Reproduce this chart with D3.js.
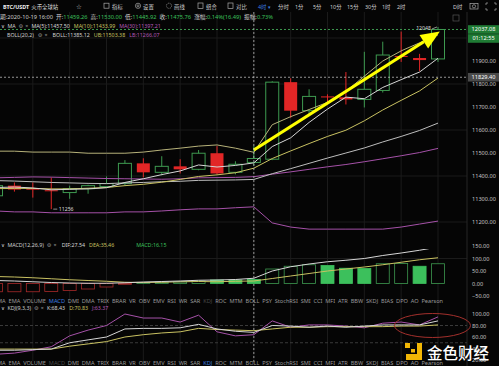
<!DOCTYPE html>
<html>
<head>
<meta charset="utf-8">
<script src="https://cdn.jsdelivr.net/npm/d3@7"></script>
<style>
  body { margin: 0; background: #050505; }
  svg { display: block; font-family: "Noto Sans", "Noto Sans CJK SC", sans-serif; }
</style>
</head>
<body>
<svg id="chart" width="499" height="366"></svg>
<script>
// 4h candles, BTC/USDT
var candleOpen  = [11314, 11358, 11345, 11338, 11328, 11345, 11354, 11367, 11455, 11416, 11442, 11429, 11499, 11416, 11459, 11473, 11808, 11684, 11746, 11742, 11733, 11772, 11922, 11913, 11909];
var candleHigh  = [11370, 11372, 11372, 11394, 11358, 11362, 11398, 11469, 11477, 11486, 11473, 11513, 11530, 11464, 11530, 11812, 11825, 11777, 11755, 11852, 11940, 11984, 12028, 11931, 12048];
var candleLow   = [11300, 11332, 11306, 11256, 11301, 11323, 11350, 11358, 11394, 11403, 11411, 11425, 11407, 11407, 11446, 11469, 11653, 11667, 11720, 11711, 11698, 11763, 11896, 11856, 11896];
var candleClose = [11358, 11341, 11341, 11334, 11345, 11358, 11367, 11455, 11416, 11442, 11429, 11499, 11411, 11451, 11476, 11808, 11684, 11746, 11742, 11733, 11777, 11926, 11918, 11904, 12037];

var ma5  = [11350, 11352, 11348, 11340, 11342, 11344, 11349, 11372, 11388, 11406, 11422, 11448, 11439, 11446, 11457, 11528, 11566, 11633, 11691, 11743, 11736, 11785, 11819, 11852, 11912];
var ma10 = [11345, 11346, 11346, 11344, 11344, 11347, 11350, 11358, 11364, 11373, 11385, 11398, 11405, 11414, 11434, 11476, 11509, 11541, 11572, 11599, 11640, 11687, 11729, 11770, 11826];
var ma30 = [11392, 11394, 11396, 11395, 11393, 11391, 11389, 11388, 11387, 11386, 11388, 11392, 11393, 11394, 11397, 11408, 11418, 11429, 11440, 11450, 11462, 11475, 11488, 11502, 11520];
var bollMid = [11380, 11378, 11375, 11372, 11370, 11368, 11367, 11370, 11372, 11375, 11377, 11381, 11382, 11383, 11385, 11410, 11432, 11455, 11478, 11500, 11522, 11548, 11572, 11598, 11630];
var bollUp  = [11508, 11508, 11504, 11504, 11504, 11499, 11499, 11499, 11504, 11513, 11521, 11530, 11535, 11521, 11503, 11623, 11658, 11689, 11720, 11768, 11834, 11900, 11944, 11979, 12014];
var bollLow = [11248, 11244, 11244, 11240, 11240, 11240, 11240, 11244, 11244, 11248, 11253, 11257, 11257, 11262, 11266, 11196, 11178, 11169, 11169, 11169, 11169, 11169, 11178, 11191, 11204];

var macdBar   = [-33, -33, -33, -32, -28, -22, -14, -3, 4, 5, 6, 10, 14, 14, 16, 58, 69, 75, 72, 61, 60, 79, 80, 69, 79];
var macdSolid = [0, 0, 0, 0, 0, 0, 0, 0, 0, 0, 0, 0, 1, 1, 1, 0, 0, 0, 1, 1, 1, 0, 0, 1, 0];
var macdDif   = [12, 10, 7, 4, 2, 1, 1, 3, 6, 8, 10, 13, 14, 16, 21, 50, 67, 78, 87, 93, 100, 112, 122, 133, 146];
var macdDea   = [28, 26, 23, 19, 15, 12, 9, 5, 4, 5, 7, 8, 7, 9, 10, 20, 30, 40, 50, 58, 66, 75, 85, 95, 103];

var kdjK = [37, 37, 38, 39, 50, 55, 60, 74, 75, 75, 76, 82, 74, 70, 68, 80, 79, 77, 79, 77, 79, 81, 81, 81, 88];
var kdjD = [39, 39, 39, 39, 44, 48, 52, 60, 64, 67, 69, 75, 73, 72, 71, 74, 77, 77, 78, 78, 78, 78, 79, 79, 81];
var kdjJ = [30, 32, 37, 43, 62, 72, 80, 100, 93, 93, 86, 98, 69, 62, 64, 88, 77, 81, 81, 79, 76, 84, 86, 81, 95];

var priceTicks = [11900, 11800, 11700, 11600, 11500, 11400, 11300, 11200];
var macdTicks = [150, 100, 50, 0, -50];
var kdjTicks = [100, 80, 60, 40, 20];

var periods = ["分时", "1分", "5分", "10分", "15分", "30分", "1时", "2时"];
var indicatorTabs = ["MA", "EMA", "VOLUME", "MACD", "DMI", "DMA", "TRIX", "BRAR", "VR", "OBV", "EMV", "RSI", "WR", "SAR", "KDJ", "ROC", "MTM", "BOLL", "PSY", "StochRSI", "SMI", "CCI", "MFI", "ATR", "BBW", "SKDJ", "BIAS", "DPO", "AO", "Pearson"];

var lastPrice = 12037.08, crossPrice = 11829.40, hoverIndex = 14;
var highMark = {i: 24, price: 12048}, lowMark = {i: 3, price: 11256};
var arrowFrom = {i: 14, price: 11513}, arrowTo = {i: 24.1, price: 12028};
var circleAt = {i: 23.7, v: 80};

var svg = d3.select("#chart"),
    width = +svg.attr("width"),
    height = +svg.attr("height"),
    plotRight = 467;

svg.append("rect").attr("width", width).attr("height", height).attr("fill", "#050505");

var x = d3.scaleLinear().domain([0, 24]).range([-4, 438]);
var y = d3.scaleLinear().domain([11200, 11900]).range([222, 61]);
var yMacd = d3.scaleLinear().domain([-50, 150]).range([296, 246]);
var yKdj = d3.scaleLinear().domain([20, 100]).range([360, 314]);

var green = "#3e9a50", greenFill = "#3cc05c", red = "#e22626";
var cWhite = "#d6d6d6", cYellow = "#c9c262", cPurple = "#a551a8", cText = "#cfcfcf", cPink = "#b55ab8";

function clip(id, y0, y1) {
    svg.append("clipPath").attr("id", id).append("rect")
        .attr("x", 0).attr("y", y0).attr("width", plotRight).attr("height", y1 - y0);
    return svg.append("g").attr("clip-path", "url(#" + id + ")");
}

// grid
var grid = svg.append("g").attr("stroke", "#1b1b1b").attr("stroke-width", 1);
grid.selectAll(".v").data(d3.range(2, 25, 2)).enter().append("line")
    .attr("x1", function(d) { return x(d); }).attr("x2", function(d) { return x(d); })
    .attr("y1", 12).attr("y2", 361);
grid.selectAll(".h").data(d3.range(11200, 12001, 200)).enter().append("line")
    .attr("x1", 0).attr("x2", plotRight)
    .attr("y1", function(d) { return y(d); }).attr("y2", function(d) { return y(d); });
grid.append("line").attr("x1", 0).attr("x2", plotRight).attr("y1", yMacd(100)).attr("y2", yMacd(100));
grid.append("line").attr("x1", plotRight).attr("x2", plotRight).attr("y1", 12).attr("y2", 366).attr("stroke", "#262626");
svg.append("g").selectAll("line").data([yKdj(80), yKdj(50)]).enter().append("line")
    .attr("x1", 0).attr("x2", plotRight).attr("y1", function(d) { return d; }).attr("y2", function(d) { return d; })
    .attr("stroke-dasharray", "3,2").attr("stroke", "#3a3a3a");

// main panel
var main = clip("clipMain", 12, 238);
var candles = d3.range(candleOpen.length).map(function(i) {
    return {i: i, o: candleOpen[i], h: candleHigh[i], l: candleLow[i], c: candleClose[i]};
});
var cg = main.selectAll(".candle").data(candles).enter().append("g").attr("class", "candle");
cg.append("line")
    .attr("x1", function(d) { return x(d.i); }).attr("x2", function(d) { return x(d.i); })
    .attr("y1", function(d) { return y(d.h); }).attr("y2", function(d) { return y(d.l); })
    .attr("stroke", function(d) { return d.c >= d.o ? green : red; });
cg.append("rect")
    .attr("x", function(d) { return x(d.i) - 6.5; })
    .attr("width", 13)
    .attr("y", function(d) { return y(Math.max(d.o, d.c)); })
    .attr("height", function(d) { return Math.max(1, Math.abs(y(d.o) - y(d.c))); })
    .attr("fill", function(d) { return d.c >= d.o ? "#050505" : red; })
    .attr("stroke", function(d) { return d.c >= d.o ? green : "none"; });

var priceLine = d3.line().x(function(d, i) { return x(i); }).y(function(d) { return y(d); });
[[bollLow, cPurple], [ma30, cPurple], [bollMid, "#bdbdbd"], [ma10, cYellow], [bollUp, "#b7b27a"], [ma5, cWhite]].forEach(function(s) {
    main.append("path").attr("d", priceLine(s[0])).attr("fill", "none").attr("stroke", s[1]).attr("stroke-width", 1);
});

// last price & crosshair
main.append("line").attr("x1", 0).attr("x2", plotRight).attr("y1", y(lastPrice)).attr("y2", y(lastPrice))
    .attr("stroke", green).attr("stroke-dasharray", "2,2");
main.append("line").attr("x1", 0).attr("x2", plotRight).attr("y1", y(crossPrice)).attr("y2", y(crossPrice))
    .attr("stroke", "#bbb").attr("stroke-dasharray", "2,2").attr("stroke-width", 0.8);
svg.append("line").attr("x1", x(hoverIndex)).attr("x2", x(hoverIndex)).attr("y1", 12).attr("y2", 362)
    .attr("stroke", "#bbb").attr("stroke-dasharray", "2,2").attr("stroke-width", 0.8);

// yellow trend arrow
var ax0 = x(arrowFrom.i), ay0 = y(arrowFrom.price), ax1 = x(arrowTo.i), ay1 = y(arrowTo.price);
var ang = Math.atan2(ay1 - ay0, ax1 - ax0), headLen = 19, headW = 8;
var bx = ax1 - headLen * Math.cos(ang), by = ay1 - headLen * Math.sin(ang);
main.append("line").attr("x1", ax0).attr("y1", ay0).attr("x2", bx).attr("y2", by)
    .attr("stroke", "#ffff00").attr("stroke-width", 3.2);
main.append("path")
    .attr("d", "M" + ax1 + "," + ay1 +
        "L" + (bx - headW * Math.sin(ang)) + "," + (by + headW * Math.cos(ang)) +
        "L" + (bx + headW * Math.sin(ang)) + "," + (by - headW * Math.cos(ang)) + "Z")
    .attr("fill", "#ffff00");

// high / low marks
svg.append("line").attr("x1", x(highMark.i) - 6).attr("x2", x(highMark.i) - 1)
    .attr("y1", y(highMark.price) + 2).attr("y2", y(highMark.price)).attr("stroke", "#ccc").attr("stroke-width", 0.7);
svg.append("text").attr("x", x(highMark.i) - 7).attr("y", y(highMark.price) + 3.5).attr("text-anchor", "end")
    .attr("font-size", 5.2).attr("fill", "#ddd").text(highMark.price);
svg.append("line").attr("x1", x(lowMark.i) + 2).attr("x2", x(lowMark.i) + 6)
    .attr("y1", y(lowMark.price)).attr("y2", y(lowMark.price)).attr("stroke", "#ccc").attr("stroke-width", 0.7);
svg.append("text").attr("x", x(lowMark.i) + 7.5).attr("y", y(lowMark.price) + 2)
    .attr("font-size", 5.2).attr("fill", "#ddd").text(lowMark.price);

// right price axes
var axes = [[y, priceTicks], [yMacd, macdTicks], [yKdj, kdjTicks]].map(function(a) {
    var g = svg.append("g").attr("transform", "translate(470,0)")
        .call(d3.axisRight(a[0]).tickValues(a[1]).tickSize(0).tickPadding(2).tickFormat(d3.format(".2f")));
    g.select(".domain").remove();
    g.selectAll("text").attr("fill", "#c4c4c4").attr("font-size", 5.6).attr("font-family", "Noto Sans, sans-serif");
    return g;
});

function tagBox(yy, txt, fill) {
    svg.append("rect").attr("x", 468).attr("y", yy - 4.3).attr("width", 31).attr("height", 8.6).attr("fill", fill);
    svg.append("text").attr("x", 483.5).attr("y", yy + 2).attr("text-anchor", "middle")
        .attr("font-size", 5.6).attr("fill", "#fff").text(txt);
}
tagBox(y(lastPrice), d3.format(".2f")(lastPrice), "#1f7b34");
tagBox(y(lastPrice) + 9, "01:12:55", "#1f7b34");
tagBox(y(crossPrice), d3.format(".2f")(crossPrice), "#4a4a4a");

// MACD panel
var macdG = clip("clipMacd", 249, 298);
macdG.selectAll(".bar").data(macdBar).enter().append("rect")
    .attr("x", function(d, i) { return x(i) - 6.5; })
    .attr("width", 13)
    .attr("y", function(d) { return Math.min(yMacd(d), yMacd(0)); })
    .attr("height", function(d) { return Math.max(0.8, Math.abs(yMacd(d) - yMacd(0))); })
    .attr("fill", function(d, i) { return d >= 0 && macdSolid[i] ? greenFill : "#050505"; })
    .attr("stroke", function(d, i) { return d < 0 ? "#a82a2a" : (macdSolid[i] ? greenFill : green); })
    .attr("stroke-width", 0.8);
var macdLine = d3.line().x(function(d, i) { return x(i); }).y(function(d) { return yMacd(d); });
macdG.append("path").attr("d", macdLine(macdDea)).attr("fill", "none").attr("stroke", cYellow);
macdG.append("path").attr("d", macdLine(macdDif)).attr("fill", "none").attr("stroke", cWhite);

// KDJ panel
var kdjG = clip("clipKdj", 311, 361);
var kdjLine = d3.line().x(function(d, i) { return x(i); }).y(function(d) { return yKdj(d); });
kdjG.append("path").attr("d", kdjLine(kdjJ)).attr("fill", "none").attr("stroke", cPurple);
kdjG.append("path").attr("d", kdjLine(kdjD)).attr("fill", "none").attr("stroke", cYellow);
kdjG.append("path").attr("d", kdjLine(kdjK)).attr("fill", "none").attr("stroke", cWhite);
svg.append("ellipse").attr("cx", x(circleAt.i)).attr("cy", yKdj(circleAt.v)).attr("rx", 38).attr("ry", 12)
    .attr("fill", "none").attr("stroke", "#a3302c").attr("stroke-width", 1);

// flowing text rows: segs = [text, colour, gap before, font family]
function flowRow(x0, yy, size, segs) {
    var t = svg.append("text").attr("x", x0).attr("y", yy).attr("font-size", size);
    segs.forEach(function(s) {
        var sp = t.append("tspan").attr("fill", s[1]).text(s[0]);
        if (s[2]) sp.attr("dx", s[2]);
        if (s[3]) sp.attr("font-family", s[3]);
    });
    return t;
}
var sym = "DejaVu Sans";
var G = "#3cc05c";

// top bar
flowRow(3, 8.5, 5.4, [["BTC/USDT", "#eee"], ["火币全球站", "#ddd", 2]]).select("tspan").attr("font-weight", "bold");
flowRow(76, 8.8, 6.5, [["☆", "#bbb", 0, sym]]);
[[112, "指标"], [143, "设置"], [174, "画线"], [206, "组合"], [236, "对比"]].forEach(function(b) {
    flowRow(b[0], 8.5, 5.4, [[b[1], cText]]);
});
var icons = svg.append("g").attr("fill", "none").attr("stroke", "#aaa").attr("stroke-width", 0.7);
icons.append("rect").attr("x", 104).attr("y", 3.2).attr("width", 5).attr("height", 5);
icons.append("circle").attr("cx", 138).attr("cy", 5.8).attr("r", 2.6);
icons.append("circle").attr("cx", 138).attr("cy", 5.8).attr("r", 1);
icons.append("circle").attr("cx", 169).attr("cy", 5.8).attr("r", 2.6).attr("stroke-dasharray", "1,0.8");
icons.append("rect").attr("x", 198).attr("y", 3).attr("width", 5).attr("height", 5.5);
icons.append("rect").attr("x", 228).attr("y", 3).attr("width", 5).attr("height", 5.5);
icons.append("rect").attr("x", 470).attr("y", 3.5).attr("width", 8).attr("height", 5.5);
icons.append("circle").attr("cx", 474).attr("cy", 6.3).attr("r", 1.6);
icons.append("path").attr("d", "M486,5V3h2M494,3h2v2M496,8v2h-2M488,10h-2V8");
icons.append("rect").attr("x", 453).attr("y", 15).attr("width", 6).attr("height", 6).attr("stroke", "#555");

flowRow(258, 8.5, 5.4, [["4时 ▾", "#3d7fe0"]]);
svg.append("g").selectAll("text").data(periods).enter().append("text")
    .attr("x", function(d, i) { return [278, 295, 313, 330, 347, 365, 382, 397][i]; })
    .attr("y", 8.5).attr("font-size", 5.4).attr("fill", cText).text(function(d) { return d; });
flowRow(453, 8.5, 5.4, [["D时", cText]]);

// info rows
flowRow(-5.6, 19, 5.7, [
    ["日期:2020-10-19 16:00", cText],
    ["开:", cText, 3], ["11459.26", G],
    ["高:", cText, 3], ["11530.00", G],
    ["低:", cText, 3], ["11445.92", G],
    ["收:", cText, 3], ["11475.76", G],
    ["涨幅:", cText, 3], ["0.14%(16.49)", G],
    ["振幅:", cText, 3], ["0.73%", G]
]);
flowRow(1, 28, 5.3, [
    ["∨", cText, 0, sym], ["MA", cText, 2.5], ["⚙", "#999", 3, sym], ["×", "#999", 2],
    ["MA(5):11457.50", cWhite, 3], ["MA(10):11433.99", cYellow, 4], ["MA(30):11397.21", cPink, 4]
]);
flowRow(7, 36.5, 5.3, [
    ["BOLL(20,2)", cText], ["⚙", "#999", 4, sym], ["×", "#999", 2],
    ["BOLL:11385.12", cWhite, 5], ["UB:11503.38", cYellow, 4], ["LB:11266.07", cPink, 4]
]);
flowRow(1, 247, 5.3, [
    ["∨", cText, 0, sym], ["MACD(12,26,9)", cText, 2.5], ["⚙", "#999", 3, sym], ["×", "#999", 2],
    ["DIF:27.54", cWhite, 5], ["DEA:35.46", cYellow, 4], ["MACD:16.15", G, 22]
]);
flowRow(1, 310, 5.3, [
    ["∨", cText, 0, sym], ["KDJ(9,3,3)", cText, 2.5], ["⚙", "#999", 3, sym], ["×", "#999", 2],
    ["K:68.43", cWhite, 3], ["D:70.83", cYellow, 4], ["J:63.37", cPink, 4]
]);

// indicator tab rows
function tabRow(yy, active, dim) {
    var items = svg.append("g").attr("font-size", 5.6).selectAll("text").data(indicatorTabs).enter().append("text")
        .attr("y", yy)
        .attr("fill", function(d) { return d === active ? "#3d7fe0" : (d === dim ? "#4a4a4a" : "#9a9a9a"); })
        .text(function(d) { return d; });
    var widths = [];
    items.each(function() { widths.push(this.getComputedTextLength()); });
    var gap = (446 - d3.sum(widths)) / (widths.length - 1), cx = -3;
    items.attr("x", function(d, i) { var v = cx; cx += widths[i] + gap; return v; });
}
tabRow(302.5, "MACD", "KDJ");
tabRow(365, "KDJ", "MACD");

// watermark
var logo = svg.append("g").attr("fill", "#f2b705");
logo.append("rect").attr("x", 405).attr("y", 343).attr("width", 5).attr("height", 5);
logo.append("rect").attr("x", 417).attr("y", 343).attr("width", 5).attr("height", 17);
logo.append("rect").attr("x", 406).attr("y", 354).attr("width", 16).attr("height", 6);
logo.append("rect").attr("x", 411).attr("y", 349).attr("width", 4).attr("height", 3.5);
svg.append("text").attr("x", 427).attr("y", 359).attr("font-size", 15.5).attr("fill", "#fff")
    .attr("font-family", "Noto Sans CJK SC").attr("font-weight", "500").text("金色财经");
</script>
</body>
</html>
